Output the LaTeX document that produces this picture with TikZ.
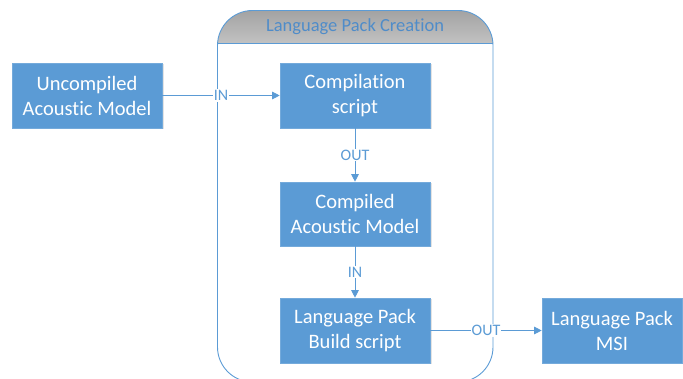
\documentclass[tikz,border=0pt]{standalone}
\usepackage{fontspec}
\setmainfont{Carlito}[Ligatures={NoCommon}]
\usetikzlibrary{arrows.meta,shadows}
\definecolor{boxblue}{HTML}{5B9BD5}
\definecolor{lineblue}{HTML}{5B9BD5}
\definecolor{titleblue}{HTML}{4F8CC9}
\definecolor{headtop}{HTML}{A3A3A3}
\definecolor{headbot}{HTML}{C2C2C2}
\begin{document}
\begin{tikzpicture}[x=1pt,y=-1pt,
  block/.style={fill=boxblue, draw=boxblue!85!white, line width=0.6pt,
    minimum width=150pt, minimum height=65pt, text=white,
    font=\fontsize{20.5}{25}\selectfont, align=center, inner sep=0pt,
    drop shadow={opacity=0.22, shadow xshift=1.5pt, shadow yshift=-1.5pt}},
  flow/.style={draw=lineblue, line width=0.9pt, -{Triangle[length=7.5pt,width=7.5pt]}},
  tag/.style={fill=white, text=lineblue, font=\fontsize{16}{19}\selectfont, inner sep=1pt}
]
\useasboundingbox (0,0) rectangle (683,379);

% container with shaded header band
\begin{scope}
  \clip[rounded corners=35pt] (217.5,10.5) rectangle (493,382);
  \shade[top color=headtop, bottom color=headbot] (217.5,10.5) rectangle (493,43.5);
\end{scope}
\draw[lineblue, line width=0.9pt, rounded corners=35pt] (217.5,10.5) rectangle (493,382);
\draw[lineblue, line width=0.9pt] (217.5,43.5) -- (493,43.5);
\node[text=titleblue, font=\fontsize{18.5}{22}\selectfont] (title) at (355,27) {Language Pack Creation};

% process boxes
\node[block] (uam) at (87,95.5) {Uncompiled\\Acoustic Model};
\node[block] (cs) at (355,95.5) {Compilation\\script};
\node[block, minimum height=64pt] (cam) at (355,214) {Compiled\\Acoustic Model};
\node[block] (lpb) at (355,330.5) {Language Pack\\Build script};
\node[block, minimum width=140pt] (msi) at (612,330.5) {Language Pack\\MSI};

% data flow
\draw[flow] (uam) -- node[tag] {IN} (cs);
\draw[flow] (cs) -- node[tag] {OUT} (cam);
\draw[flow] (cam) -- node[tag] {IN} (lpb);
\draw[flow] (lpb) -- node[tag] {OUT} (msi);
\end{tikzpicture}
\end{document}
